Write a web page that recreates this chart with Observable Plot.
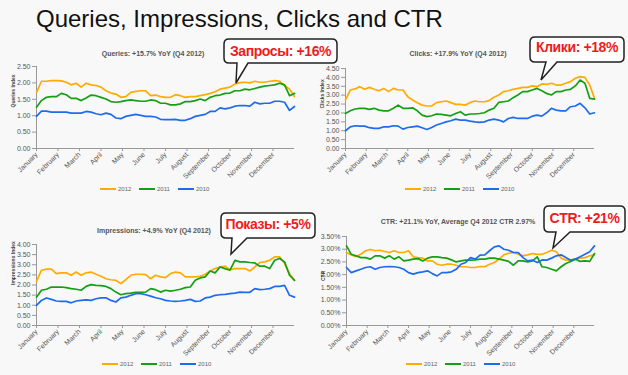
<!DOCTYPE html>
<html><head><meta charset="utf-8">
<script src="https://cdn.jsdelivr.net/npm/d3@7"></script>
<script src="https://cdn.jsdelivr.net/npm/@observablehq/plot@0.6"></script>
<style>
body{margin:0;background:#f8f8f8;font-family:"Liberation Sans",Arial,sans-serif;}
#root{position:relative;width:628px;height:375px;overflow:hidden;background:#f8f8f8;}
.abs{position:absolute;}
.ptitle{position:absolute;font-size:7px;font-weight:bold;color:#555;white-space:nowrap;transform:translateX(-50%);line-height:8px;}
.leg{position:absolute;display:flex;align-items:center;font-size:6px;color:#666;line-height:8px;}
.leg span.sw{display:inline-block;width:16px;height:2px;margin-right:2px;}
.leg span.it{display:flex;align-items:center;width:39px;}
</style></head><body><div id="root"></div>
<script>
const months = ["January","February","March","April","May","June","July","August","September","October","November","December"];
const years = ["2012","2011","2010"];
const colors = ["#ffab00","#13a013","#1d6cee"];

const queries2012 = [1.71,2.05,2.05,2.07,2.07,2.06,2.02,1.94,1.99,1.87,1.99,1.94,1.92,1.87,1.76,1.69,1.66,1.56,1.58,1.71,1.74,1.76,1.76,1.61,1.63,1.58,1.56,1.56,1.64,1.61,1.56,1.58,1.58,1.61,1.64,1.68,1.73,1.81,1.84,1.87,1.97,2.01,2.02,2.00,2.05,2.02,2.02,2.05,2.07,2.05,1.92,1.81,1.58];
const queries2011 = [1.26,1.46,1.56,1.58,1.58,1.68,1.64,1.53,1.53,1.46,1.54,1.63,1.61,1.56,1.51,1.43,1.41,1.43,1.46,1.48,1.46,1.44,1.44,1.48,1.46,1.38,1.38,1.33,1.33,1.36,1.43,1.43,1.46,1.51,1.46,1.56,1.61,1.63,1.68,1.69,1.76,1.76,1.81,1.79,1.83,1.87,1.90,1.92,1.94,1.99,1.94,1.61,1.68];
const queries2010 = [0.98,1.14,1.14,1.11,1.11,1.11,1.11,1.08,1.08,1.08,1.13,1.11,1.06,1.03,1.08,1.04,0.93,0.91,0.98,1.01,1.04,1.01,0.98,0.98,0.96,0.89,0.88,0.88,0.89,0.86,0.86,0.91,0.98,1.01,1.04,1.13,1.13,1.24,1.21,1.24,1.29,1.31,1.31,1.29,1.41,1.36,1.38,1.38,1.44,1.44,1.41,1.16,1.28];

const clicks2012 = [2.73,3.29,3.35,3.48,3.33,3.44,3.33,3.25,3.38,3.20,3.38,3.29,3.29,2.91,2.73,2.58,2.44,2.39,2.39,2.58,2.63,2.67,2.58,2.48,2.48,2.44,2.58,2.67,2.63,2.63,2.69,2.88,3.01,3.20,3.25,3.33,3.38,3.44,3.44,3.52,3.48,3.63,3.61,3.67,3.57,3.57,3.67,3.76,3.95,4.04,4.00,3.57,2.82];
const clicks2011 = [1.97,2.12,2.22,2.26,2.26,2.20,2.26,2.16,2.12,2.12,2.26,2.44,2.26,2.26,2.29,2.12,1.88,1.79,1.84,1.94,1.92,1.88,1.84,1.97,2.07,1.88,1.94,1.94,1.97,2.01,2.16,2.26,2.59,2.63,2.67,2.86,3.01,3.20,3.20,3.29,3.38,3.25,3.10,3.01,3.20,3.20,3.29,3.33,3.52,3.85,3.67,2.82,2.78];
const clicks2010 = [1.00,1.22,1.28,1.26,1.26,1.17,1.13,1.13,1.22,1.22,1.28,1.26,1.09,1.18,1.22,1.26,1.17,1.07,1.18,1.32,1.41,1.50,1.56,1.65,1.60,1.60,1.54,1.50,1.47,1.50,1.60,1.65,1.60,1.50,1.69,1.75,1.69,1.69,1.69,1.82,1.88,1.82,2.01,2.26,2.16,2.12,2.12,2.35,2.39,2.54,2.29,1.94,2.01];

const impressions2012 = [2.18,2.73,2.78,2.78,2.56,2.60,2.60,2.48,2.64,2.48,2.60,2.64,2.53,2.43,2.31,2.26,2.23,2.07,2.26,2.48,2.53,2.53,2.51,2.31,2.48,2.40,2.36,2.56,2.64,2.60,2.40,2.40,2.40,2.43,2.53,2.69,2.81,2.89,2.93,2.76,2.81,2.81,2.81,2.69,2.89,3.11,3.14,3.22,3.39,3.39,3.06,2.56,2.23];
const impressions2011 = [1.40,1.74,1.79,1.90,1.90,1.90,1.87,1.82,1.79,1.74,1.93,2.02,1.98,1.97,1.93,1.82,1.65,1.52,1.57,1.60,1.64,1.64,1.65,1.82,1.77,1.65,1.74,1.70,1.74,1.79,1.87,1.90,2.23,2.35,2.40,2.69,2.60,2.89,2.81,2.73,3.22,3.14,3.14,3.11,3.09,2.93,2.93,2.81,3.22,3.31,3.14,2.48,2.23];
const impressions2010 = [0.99,1.24,1.36,1.29,1.21,1.19,1.19,1.12,1.21,1.24,1.27,1.24,1.32,1.36,1.37,1.24,1.16,1.36,1.40,1.49,1.57,1.57,1.52,1.45,1.37,1.32,1.24,1.21,1.19,1.21,1.24,1.29,1.19,1.21,1.36,1.40,1.49,1.52,1.54,1.57,1.60,1.65,1.64,1.64,1.82,1.77,1.79,1.82,1.93,1.93,1.98,1.49,1.40];

const ctr2012 = [2.87,2.77,2.71,2.80,2.94,2.99,2.94,2.96,2.91,2.87,2.94,2.87,2.87,2.94,2.70,2.67,2.65,2.54,2.54,2.41,2.37,2.41,2.41,2.37,2.31,2.31,2.28,2.28,2.32,2.31,2.41,2.48,2.61,2.78,2.84,2.87,2.80,2.74,2.78,2.83,2.80,2.80,2.87,2.96,2.90,2.65,2.57,2.57,2.61,2.65,2.67,2.74,2.78];
const ctr2011 = [3.13,2.80,2.74,2.67,2.67,2.61,2.74,2.74,2.65,2.74,2.61,2.70,2.54,2.57,2.61,2.63,2.54,2.65,2.70,2.70,2.67,2.65,2.58,2.50,2.54,2.57,2.57,2.58,2.61,2.61,2.65,2.65,2.61,2.57,2.52,2.37,2.54,2.54,2.50,2.54,2.70,2.31,2.28,2.21,2.15,2.31,2.44,2.52,2.61,2.52,2.54,2.52,2.83];
const ctr2010 = [2.28,2.08,2.15,2.21,2.28,2.31,2.21,2.28,2.31,2.32,2.31,2.28,2.21,2.08,2.02,2.08,2.11,2.15,2.04,1.95,2.08,2.08,2.11,2.21,2.41,2.48,2.67,2.61,2.77,2.78,2.94,3.09,3.13,3.00,2.96,2.87,2.87,2.67,2.54,2.57,2.48,2.58,2.57,2.65,2.74,2.78,2.67,2.57,2.61,2.70,2.80,2.90,3.13];

const queriesTicks = [0,0.5,1,1.5,2,2.5];
const clicksTicks = [0,0.5,1,1.5,2,2.5,3,3.5,4,4.5];
const impressionsTicks = [0,0.5,1,1.5,2,2.5,3,3.5,4];
const ctrTicks = [0,0.5,1,1.5,2,2.5,3,3.5];

const titles = ["Queries: +15.7% YoY (Q4 2012)","Clicks: +17.9% YoY (Q4 2012)","Impressions: +4.9% YoY (Q4 2012)","CTR: +21.1% YoY, Average Q4 2012 CTR 2.97%"];
const yLabels = ["Queries Index","Clicks Index","Impressions Index","CTR"];
const callouts = ["Запросы: +16%","Клики: +18%","Показы: +5%","CTR: +21%"];

const root = document.getElementById("root");

function addDiv(cls, css, html){
  const d = document.createElement("div");
  d.className = cls; Object.assign(d.style, css); d.innerHTML = html; root.appendChild(d); return d;
}

// main title
addDiv("abs", {left:"36px", top:"6px", fontSize:"24px", color:"#111", lineHeight:"26px", whiteSpace:"nowrap"}, "Queries, Impressions, Clicks and CTR");

const panels = [
  {series:[queries2012,queries2011,queries2010], ticks:queriesTicks, fmt:d=>d.toFixed(2), title:titles[0], ylab:yLabels[0],
   left:0, top:55, w:310, h:145, mL:36, mR:16, mT:11, mB:52, tx:153, ty:50, lx:100, ly:185},
  {series:[clicks2012,clicks2011,clicks2010], ticks:clicksTicks, fmt:d=>d.toFixed(2), title:titles[1], ylab:yLabels[1],
   left:310, top:55, w:318, h:145, mL:35, mR:34, mT:13, mB:52, tx:458, ty:50, lx:405, ly:185},
  {series:[impressions2012,impressions2011,impressions2010], ticks:impressionsTicks, fmt:d=>d.toFixed(2), title:titles[2], ylab:yLabels[2],
   left:0, top:232, w:310, h:143, mL:36, mR:16, mT:12, mB:50, tx:154, ty:227, lx:102, ly:360},
  {series:[ctr2012,ctr2011,ctr2010], ticks:ctrTicks, fmt:d=>d.toFixed(2)+"%", title:titles[3], ylab:yLabels[3],
   left:310, top:225, w:318, h:150, mL:36, mR:34, mT:11, mB:50, tx:458, ty:218, lx:406, ly:360}
];

for (const p of panels) {
  const data = [];
  p.series.forEach((vals,k) => vals.forEach((v,i) => data.push({x: i*12/(vals.length-1), y: v, year: years[k]})));
  const ymax = p.ticks[p.ticks.length-1];
  const chart = Plot.plot({
    width: p.w, height: p.h,
    marginLeft: p.mL, marginRight: p.mR, marginTop: p.mT, marginBottom: p.mB,
    style: {background:"transparent", fontFamily:"'Liberation Sans', Arial, sans-serif", fontSize:"7px", color:"#555", overflow:"visible"},
    x: {domain:[0,12]},
    y: {domain:[0,ymax]},
    color: {domain: years, range: colors},
    marks: [
      Plot.axisY({ticks: p.ticks, tickFormat: p.fmt, tickSize: 4, tickPadding: 2, stroke:"#999", fill:"#555", label:null}),
      Plot.axisX({ticks: d3.range(12), tickFormat: i => months[i], tickRotate: -45, tickSize: 3, tickPadding: 2, stroke:"#999", fill:"#555", label:null}),
      Plot.ruleY([0], {stroke:"#999"}),
      Plot.ruleX([0], {stroke:"#999"}),
      Plot.line(data, {x:"x", y:"y", z:"year", stroke:"year", strokeWidth:1.7}),
      Plot.text([p.ylab], {frameAnchor:"left", dx:-23, rotate:-90, text:d=>d, fontSize:5, fontWeight:"bold", fill:"#444"})
    ]
  });
  chart.style.position = "absolute";
  chart.style.left = p.left + "px";
  chart.style.top = p.top + "px";
  root.appendChild(chart);

  addDiv("ptitle", {left:p.tx+"px", top:p.ty+"px"}, p.title);
  const leg = addDiv("leg", {left:p.lx+"px", top:p.ly+"px"}, "");
  years.forEach((y,k) => {
    const it = document.createElement("span"); it.className = "it";
    it.innerHTML = `<span class="sw" style="background:${colors[k]}"></span>${y}`;
    leg.appendChild(it);
  });
}

// callout annotations
const boxes = [
  {x0:224, y0:39, x1:337, y1:63, b0:237, b1:248, tx:236, ty:83, base:55.5},
  {x0:530, y0:37, x1:624, y1:62, b0:546, b1:557, tx:541, ty:80, base:52},
  {x0:221, y0:213, x1:315, y1:238, b0:232, b1:247, tx:231, ty:254, base:229},
  {x0:544, y0:206, x1:625, y1:232, b0:556, b1:570, tx:553, ty:248, base:222.5}
];
const svg = d3.select(root).append("svg").attr("width",628).attr("height",375)
  .style("position","absolute").style("left","0px").style("top","0px");
boxes.forEach((b,k) => {
  const r = 5;
  const path = `M${b.x0+r},${b.y0}H${b.x1-r}Q${b.x1},${b.y0} ${b.x1},${b.y0+r}V${b.y1-r}Q${b.x1},${b.y1} ${b.x1-r},${b.y1}H${b.b1}L${b.tx},${b.ty}L${b.b0},${b.y1}H${b.x0+r}Q${b.x0},${b.y1} ${b.x0},${b.y1-r}V${b.y0+r}Q${b.x0},${b.y0} ${b.x0+r},${b.y0}Z`;
  svg.append("path").attr("d", path).attr("fill","#fff").attr("stroke","#222").attr("stroke-width",1.5);
  svg.append("text").attr("x",(b.x0+b.x1)/2).attr("y",b.base)
    .attr("text-anchor","middle").attr("fill","#ee1c1c").attr("font-weight","bold")
    .attr("font-size",14).attr("letter-spacing","-0.4")
    .attr("font-family","'Liberation Sans', Arial, sans-serif").text(callouts[k]);
});
</script>
</body></html>
